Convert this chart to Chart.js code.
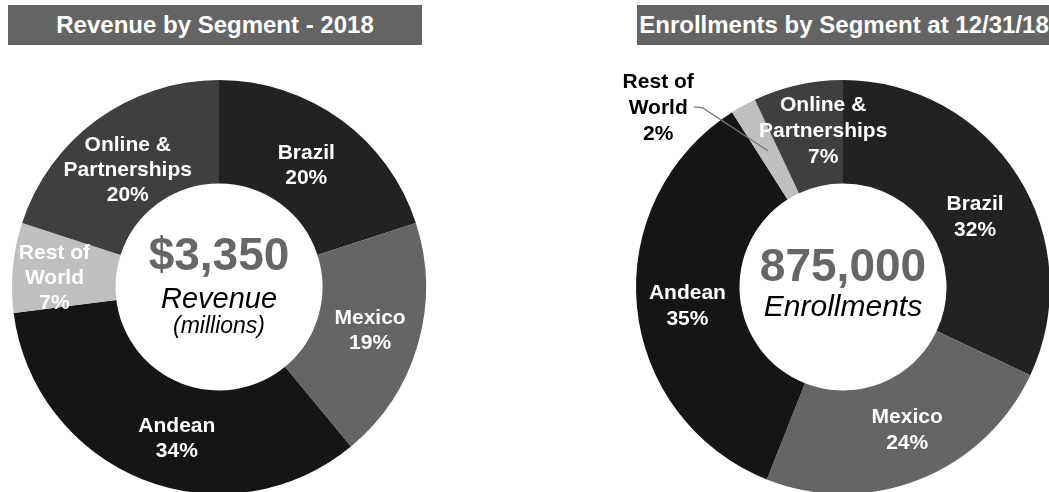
<!DOCTYPE html>
<html>
<head>
<meta charset="utf-8">
<script src="https://cdn.jsdelivr.net/npm/chart.js@4/dist/chart.umd.min.js"></script>
<style>
  body { margin: 0; width: 1049px; height: 492px; overflow: hidden; background: #fff; position: relative;
         font-family: "Liberation Sans", Arial, Helvetica, sans-serif; }
  .title { position: absolute; top: 5px; height: 40px; line-height: 40px; background: #646464; color: #fff;
           font-weight: bold; font-size: 24px; text-align: center; white-space: nowrap; }
  .box { position: absolute; top: 60px; height: 434px; }
</style>
</head>
<body>
<div class="title" style="left:8px;width:414px;">Revenue by Segment - 2018</div>
<div class="title" style="left:637px;width:414px;">Enrollments by Segment at 12/31/18</div>
<div class="box" style="left:0;width:440px;"><canvas id="revenue"></canvas></div>
<div class="box" style="left:600px;width:452px;"><canvas id="enrollments"></canvas></div>

<script>
// segments, clockwise from 12 o'clock
var segments = ['Brazil', 'Mexico', 'Andean', 'Rest of World', 'Online & Partnerships'];
var segmentLines = [['Brazil'], ['Mexico'], ['Andean'], ['Rest of', 'World'], ['Online &', 'Partnerships']];
var revenueShare = [20, 19, 34, 7, 20];        // % of 2018 revenue
var enrollmentShare = [32, 24, 35, 2, 7];      // % of enrollments at 12/31/18
var revenueTotal = '$3,350';
var enrollmentTotal = '875,000';

var segmentColors = ['#222222', '#656565', '#151515', '#bfbfbf', '#3f3f3f'];
var FONT = '"Liberation Sans", Arial, Helvetica, sans-serif';

// draws the slice labels and the text in the hole
var sliceLabels = {
	id: 'sliceLabels',
	afterDatasetsDraw: function(chart, args, opts) {
		var ctx = chart.ctx;
		var meta = chart.getDatasetMeta(0);
		var values = chart.data.datasets[0].data;
		ctx.save();
		ctx.textAlign = 'center';
		ctx.textBaseline = 'middle';

		meta.data.forEach(function(arc, i) {
			var p = arc.tooltipPosition();
			var shift = opts.shift[i] || [0, 0];
			var x = p.x + shift[0], y = p.y + shift[1];
			var lines = segmentLines[i].concat([values[i] + '%']);
			var color = '#fff';
			if (opts.callout && opts.callout.index === i) {
				color = '#000';
				ctx.font = 'bold 21px ' + FONT;
				var w = ctx.measureText(lines[1]).width;
				ctx.strokeStyle = '#777';
				ctx.lineWidth = 1.2;
				ctx.beginPath();
				ctx.moveTo(x + w / 2 + 6, y - 1);
				ctx.lineTo(x + w / 2 + 15, y);
				ctx.lineTo(p.x, p.y);
				ctx.stroke();
			}
			ctx.fillStyle = color;
			ctx.font = 'bold 21px ' + FONT;
			var y0 = y - (lines.length - 1) * opts.lineHeight / 2;
			lines.forEach(function(t, k) {
				ctx.fillText(t, x, y0 + k * opts.lineHeight);
			});
		});

		var cx = meta.data[0].x, cy = meta.data[0].y;
		opts.center.forEach(function(c) {
			ctx.font = c.font;
			ctx.fillStyle = c.color;
			ctx.fillText(c.text, cx, cy + c.dy);
		});
		ctx.restore();
	}
};

function drawDonut(id, values, padding, labelOpts) {
	var ctx = document.getElementById(id).getContext('2d');
	return new Chart(ctx, {
		type: 'doughnut',
		data: {
			labels: segments,
			datasets: [{
				data: values,
				backgroundColor: segmentColors,
				borderWidth: 0,
				hoverOffset: 0
			}]
		},
		options: {
			responsive: true,
			maintainAspectRatio: false,
			animation: false,
			events: [],
			cutout: '50%',
			layout: { padding: padding },
			plugins: {
				legend: { display: false },
				tooltip: { enabled: false },
				sliceLabels: labelOpts
			}
		},
		plugins: [sliceLabels]
	});
}

drawDonut('revenue', revenueShare, { left: 12, right: 14, top: 20, bottom: 0 }, {
	lineHeight: 25,
	shift: [[-4, 4], [2, 0], [15, 7], [-10, 6], [0, 9]],
	center: [
		{ text: revenueTotal, font: 'bold 46px ' + FONT, color: '#666', dy: -30 },
		{ text: 'Revenue', font: 'italic 29px ' + FONT, color: '#000', dy: 13 },
		{ text: '(millions)', font: 'italic 23px ' + FONT, color: '#000', dy: 40 }
	]
});

drawDonut('enrollments', enrollmentShare, { left: 36, right: 2, top: 20, bottom: 0 }, {
	lineHeight: 26,
	shift: [[1, 13], [7, -1], [-1, 5], [-110, -43], [14, -4]],
	callout: { index: 3 },
	center: [
		{ text: enrollmentTotal, font: 'bold 46px ' + FONT, color: '#666', dy: -19 },
		{ text: 'Enrollments', font: 'italic 30px ' + FONT, color: '#000', dy: 21 }
	]
});
</script>
</body>
</html>
